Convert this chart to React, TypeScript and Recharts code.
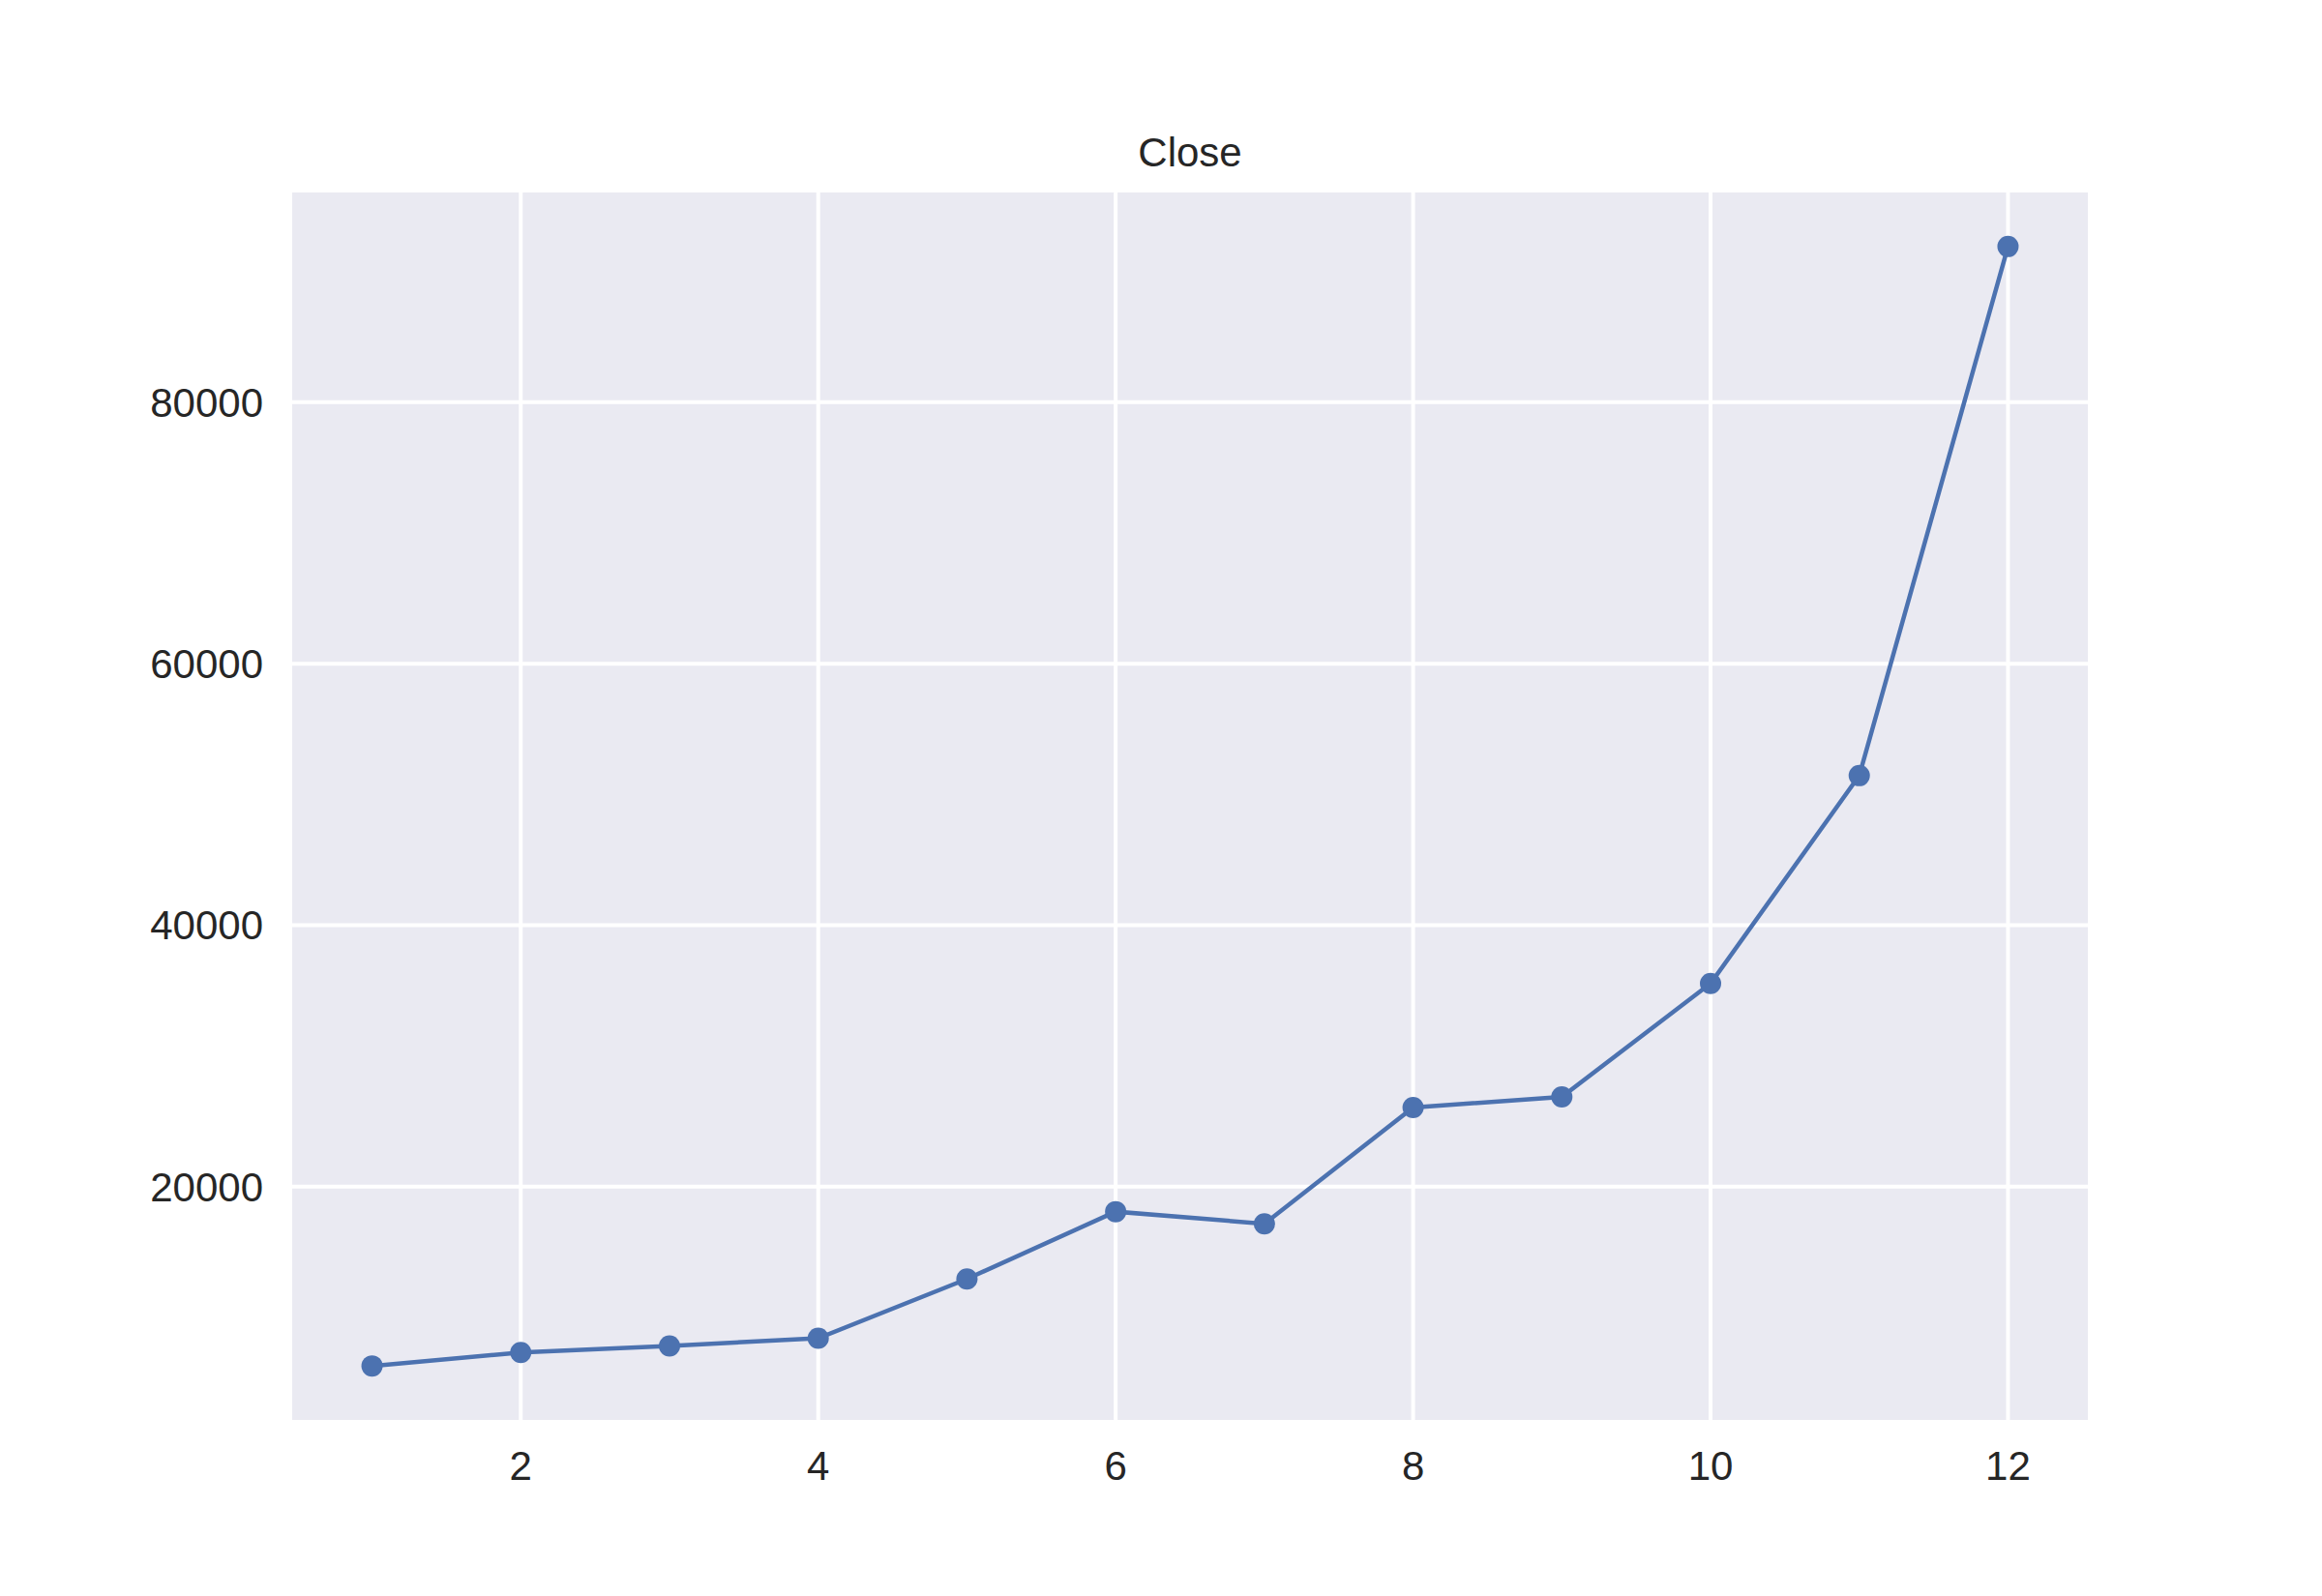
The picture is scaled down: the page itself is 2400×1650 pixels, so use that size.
import { LineChart, Line, XAxis, YAxis, CartesianGrid } from 'recharts';

const MONTHS = [1, 2, 3, 4, 5, 6, 7, 8, 9, 10, 11, 12];
const CLOSE = [6290, 7320, 7820, 8410, 12940, 18090, 17160, 26060, 26870, 35540, 51440, 91910];
const X_TICKS = [2, 4, 6, 8, 10, 12];
const Y_TICKS = [20000, 40000, 60000, 80000];
const TITLE = 'Close';

const FONT = '"Liberation Sans", Arial, sans-serif';
const TEXT = '#262626';
const BLUE = '#4C72B0';

const data = MONTHS.map((m, i) => ({ month: m, close: CLOSE[i] }));

// matplotlib-style 5% autoscale margins
const yMin = Math.min(...CLOSE);
const yMax = Math.max(...CLOSE);
const yPad = (yMax - yMin) * 0.05;
const xPad = (MONTHS[MONTHS.length - 1] - MONTHS[0]) * 0.05;

export default function App() {
  return (
    <div style={{ position: 'absolute', left: 0, top: 0, width: 2400, height: 1650, background: '#fff' }}>
      <div style={{
        position: 'absolute',
        left: 300,
        width: 1860,
        top: 133,
        textAlign: 'center',
        fontFamily: FONT,
        fontSize: 42,
        color: TEXT,
        lineHeight: '50px',
      }}>
        {TITLE}
      </div>
      <LineChart
        width={2400}
        height={1650}
        data={data}
        margin={{ top: 197, right: 240, bottom: 0, left: 0 }}
      >
        <CartesianGrid
          stroke="#ffffff"
          strokeWidth={4}
          fill="#EAEAF2"
          fillOpacity={1}
        />
        <XAxis
          type="number"
          dataKey="month"
          domain={[MONTHS[0] - xPad, MONTHS[MONTHS.length - 1] + xPad]}
          ticks={X_TICKS}
          height={180}
          axisLine={false}
          tickLine={false}
          tickSize={0}
          tickMargin={30}
          allowDataOverflow
          tick={{ fontFamily: FONT, fontSize: 42, fill: TEXT }}
        />
        <YAxis
          type="number"
          domain={[yMin - yPad, yMax + yPad]}
          ticks={Y_TICKS}
          width={300}
          axisLine={false}
          tickLine={false}
          tickSize={0}
          tickMargin={28}
          allowDataOverflow
          tick={{ fontFamily: FONT, fontSize: 42, fill: TEXT }}
        />
        <Line
          type="linear"
          dataKey="close"
          stroke={BLUE}
          strokeWidth={4.5}
          dot={{ r: 11, fill: BLUE, stroke: BLUE, strokeWidth: 0 }}
          isAnimationActive={false}
        />
      </LineChart>
    </div>
  );
}
